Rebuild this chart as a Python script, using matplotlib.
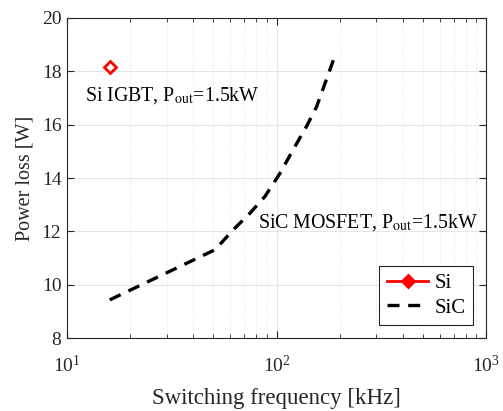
import matplotlib
matplotlib.use("Agg")
import matplotlib.pyplot as plt
from matplotlib.ticker import LogLocator, NullFormatter

plt.rcParams['font.family'] = ['Liberation Serif', 'DejaVu Serif']
plt.rcParams['mathtext.fontset'] = 'stix'

si_freq = [16.0]
si_loss = [18.15]
sic_freq = [16.0, 50.9, 62.2, 74.7, 88.1, 104.0, 120.0, 139.0, 155.5, 187.0]
sic_loss = [9.43, 11.31, 12.06, 12.68, 13.31, 14.18, 15.06, 15.93, 16.68, 18.43]
yticks = [8, 10, 12, 14, 16, 18, 20]

fig = plt.figure(figsize=(5.03, 4.11), dpi=100)
ax = fig.add_axes([67/503, 1-338/411, (486-67)/503, (338-18)/411])

ax.plot(sic_freq, sic_loss, color='black', lw=2.4, ls=(0, (3.6, 2.6)), label='SiC', zorder=3)
ax.plot(si_freq, si_loss, color='red', lw=2.0, marker='D', ms=6, mfc='white', mec='red', mew=2,
        label='Si', zorder=4)

ax.set_xscale('log')
ax.set_xlim(10, 1000)
ax.set_ylim(8, 20)
ax.set_yticks(yticks)
ax.xaxis.set_minor_locator(LogLocator(base=10, subs=range(2, 10)))
ax.xaxis.set_minor_formatter(NullFormatter())
ax.grid(True, which='major', color='#e6e6e6', lw=0.8)
ax.grid(True, which='minor', axis='x', color='#dddddd', lw=0.6, ls=':')
ax.set_axisbelow(True)
ax.tick_params(which='both', direction='in', top=True, right=True, labelsize=14, colors='#262626')
ax.tick_params(which='major', length=5)
ax.tick_params(which='minor', length=3)
ax.tick_params(axis='x', which='major', pad=12)
ax.tick_params(axis='y', which='major', pad=4)
for s in ax.spines.values():
    s.set_color('#262626')
    s.set_linewidth(0.8)

ax.set_xlabel('Switching frequency [kHz]', fontsize=16.5, color='#262626', labelpad=9)
ax.set_ylabel('Power loss [W]', fontsize=14.5, color='#262626', labelpad=5)

ax.text(12.2, 17.08, r'Si IGBT, P$_{\mathrm{out}}$=1.5kW', fontsize=14.3, va='center', ha='left')
ax.text(82, 12.32, r'SiC MOSFET, P$_{\mathrm{out}}$=1.5kW', fontsize=14.3, va='center', ha='left')

handles, labels = ax.get_legend_handles_labels()
leg = ax.legend([handles[1], handles[0]], [labels[1], labels[0]], loc='lower right', fontsize=15,
                fancybox=False, framealpha=1, edgecolor='#262626', borderaxespad=0.62,
                handlelength=2.0, handletextpad=0.3, borderpad=0.35, labelspacing=0.25)
leg.get_frame().set_linewidth(0.8)
leg.legend_handles[0].set_markerfacecolor('red')

fig.savefig('out.png', dpi=100)
